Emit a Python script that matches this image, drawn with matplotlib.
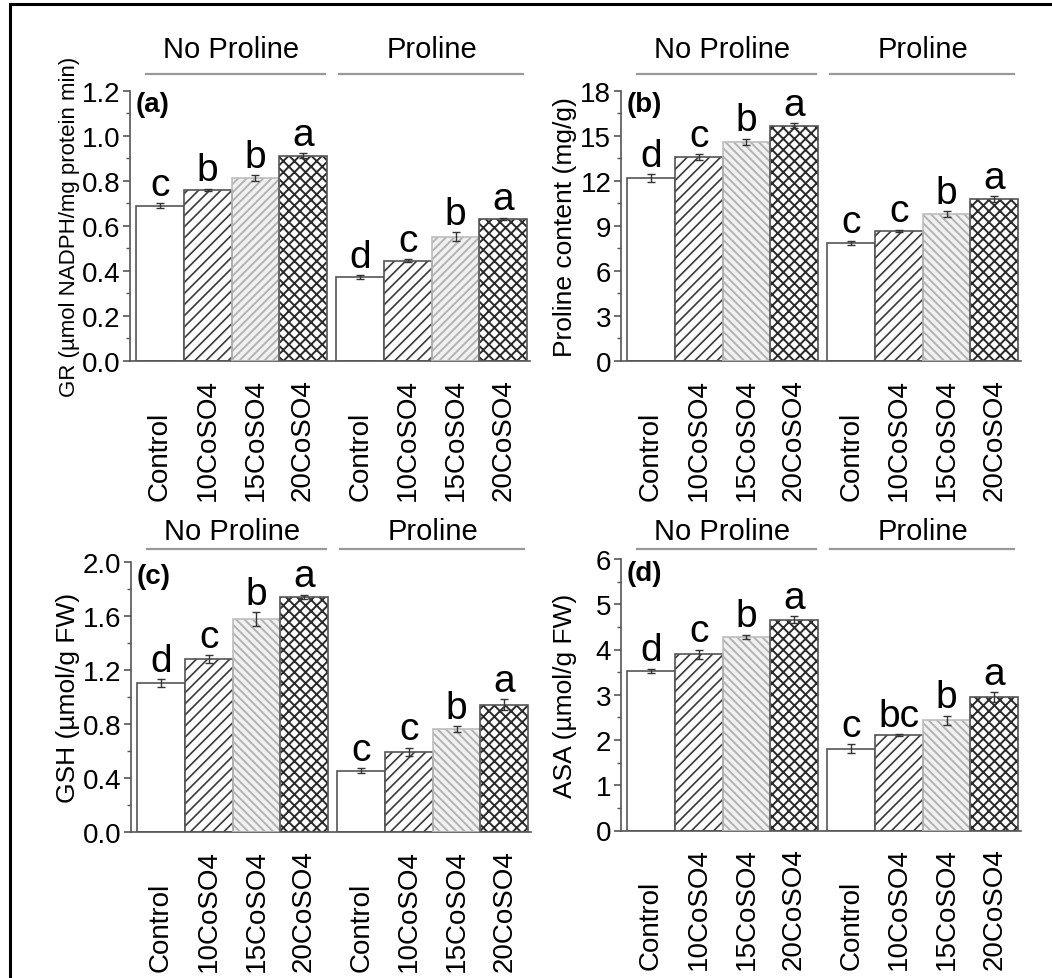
import matplotlib
matplotlib.use("Agg")
import matplotlib.pyplot as plt
from matplotlib import font_manager
from matplotlib.patches import Rectangle
from matplotlib.ticker import MultipleLocator, AutoMinorLocator, FormatStrFormatter
import numpy as np

plt.rcParams['font.family'] = ['Liberation Sans', 'DejaVu Sans']
plt.rcParams['hatch.linewidth'] = 1.1

_names = {f.name for f in font_manager.fontManager.ttflist}
HAS_NARROW = 'Liberation Sans Narrow' in _names

# ---------------- data ----------------
treatments = ["Control", "10CoSO4", "15CoSO4", "20CoSO4"]
groups = ["No Proline", "Proline"]

gr_vals = [0.689, 0.759, 0.812, 0.911, 0.371, 0.444, 0.551, 0.630]
gr_err = [0.012, 0.006, 0.012, 0.010, 0.008, 0.006, 0.020, 0.006]
gr_letters = ["c", "b", "b", "a", "d", "c", "b", "a"]

pro_vals = [12.18, 13.55, 14.60, 15.67, 7.85, 8.65, 9.75, 10.78]
pro_err = [0.25, 0.20, 0.20, 0.15, 0.15, 0.08, 0.20, 0.20]
pro_letters = ["d", "c", "b", "a", "c", "c", "b", "a"]

gsh_vals = [1.106, 1.284, 1.580, 1.745, 0.456, 0.597, 0.765, 0.945]
gsh_err = [0.03, 0.03, 0.05, 0.015, 0.02, 0.03, 0.02, 0.04]
gsh_letters = ["d", "c", "b", "a", "c", "c", "b", "a"]

asa_vals = [3.53, 3.90, 4.28, 4.66, 1.81, 2.11, 2.44, 2.95]
asa_err = [0.05, 0.10, 0.05, 0.07, 0.10, 0.02, 0.10, 0.10]
asa_letters = ["d", "c", "b", "a", "c", "bc", "b", "a"]

panels = [
    dict(vals=gr_vals, err=gr_err, letters=gr_letters, tag="(a)",
         ylabel="GR (µmol NADPH/mg protein min)", ymax=1.2, step=0.2, fmt="%.1f",
         rect=(130, 530, 91.7, 361.7), ylab_x=80, hdr_line=75, hdr_text=50, hatch3='////',
         narrow=True),
    dict(vals=pro_vals, err=pro_err, letters=pro_letters, tag="(b)",
         ylabel="Proline content (mg/g)", ymax=18, step=3, fmt="%d",
         rect=(621, 1021, 91.7, 361.7), ylab_x=577, hdr_line=75, hdr_text=50, hatch3='\\\\\\\\',
         narrow=False),
    dict(vals=gsh_vals, err=gsh_err, letters=gsh_letters, tag="(c)",
         ylabel="GSH (µmol/g FW)", ymax=2.0, step=0.4, fmt="%.1f",
         rect=(131, 531, 563.3, 833.3), ylab_x=80, hdr_line=550, hdr_text=532, hatch3='\\\\\\\\',
         narrow=False),
    dict(vals=asa_vals, err=asa_err, letters=asa_letters, tag="(d)",
         ylabel="ASA (µmol/g FW)", ymax=6, step=1, fmt="%d",
         rect=(621, 1021, 560, 831.5), ylab_x=577, hdr_line=550, hdr_text=532, hatch3='\\\\\\\\',
         narrow=False),
]

W, H = 1052, 979
fig = plt.figure(figsize=(W / 100, H / 100), dpi=100)

positions = [0, 1, 2, 3, 4.2, 5.2, 6.2, 7.2]
labels = treatments * 2
edge = '#555555'

for p in panels:
    x0, x1, ytop, ybot = p["rect"]
    h = ybot - ytop
    ax = fig.add_axes([x0 / W, 1 - ybot / H, (x1 - x0) / W, h / H])
    vals = p["vals"]
    for i, (xp, v) in enumerate(zip(positions, vals)):
        k = i % 4
        if k == 0:
            ax.bar(xp, v, width=1.0, color='white', edgecolor=edge, linewidth=1.2, zorder=2)
        elif k == 1:
            with plt.rc_context({'hatch.linewidth': 1.2}):
                ax.bar(xp, v, width=1.0, color='white', edgecolor='#3a3a3a', hatch='///',
                       linewidth=0, zorder=2)
            ax.bar(xp, v, width=1.0, fill=False, edgecolor=edge, linewidth=1.2, zorder=3)
        elif k == 2:
            with plt.rc_context({'hatch.linewidth': 1.3}):
                ax.bar(xp, v, width=1.0, color='#f0f0f0', edgecolor='#b0b0b0', hatch=p["hatch3"],
                       linewidth=0, zorder=2)
            ax.bar(xp, v, width=1.0, fill=False, edgecolor='#bdbdbd', linewidth=1.2, zorder=3)
        else:
            with plt.rc_context({'hatch.linewidth': 1.4}):
                ax.bar(xp, v, width=1.0, color='white', edgecolor='#2a2a2a', hatch='xxx',
                       linewidth=0, zorder=2)
            ax.bar(xp, v, width=1.0, fill=False, edgecolor=edge, linewidth=1.2, zorder=3)
    ax.errorbar(positions, vals, yerr=p["err"], fmt='none', ecolor='#333333',
                elinewidth=1.0, capsize=3, capthick=1.0, zorder=4)
    for xp, v, e, lt in zip(positions, vals, p["err"], p["letters"]):
        ax.annotate(lt, (xp, v + e), xytext=(0, 6), textcoords='offset points',
                    ha='center', va='baseline', fontsize=28, color='black', zorder=5)

    ax.set_xlim(-0.63, 7.76)
    ax.set_ylim(0, p["ymax"])
    ax.yaxis.set_major_locator(MultipleLocator(p["step"]))
    ax.yaxis.set_minor_locator(AutoMinorLocator(2))
    ax.yaxis.set_major_formatter(FormatStrFormatter(p["fmt"]))
    ax.set_xticks(positions)
    ax.set_xticklabels([])
    ax.tick_params(axis='x', length=0)
    # category labels, bottom-aligned as in the reference
    trans = ax.get_xaxis_transform()
    lab_y = -(139.0 / h)
    for xp, lb in zip(positions, labels):
        ax.text(xp, lab_y, lb, transform=trans, rotation=90, ha='center', va='bottom',
                fontsize=20, clip_on=False)
    ax.tick_params(axis='y', which='major', direction='out', length=5, width=1.2,
                   color=edge, labelsize=20, pad=2)
    ax.tick_params(axis='y', which='minor', direction='out', length=3, width=1.0, color=edge)
    for s in ['top', 'right']:
        ax.spines[s].set_visible(False)
    for s in ['left', 'bottom']:
        ax.spines[s].set_color(edge)
        ax.spines[s].set_linewidth(1.2)

    if p["narrow"]:
        if HAS_NARROW:
            ax.set_ylabel(p["ylabel"], fontsize=19.5,
                          family=['Liberation Sans Narrow', 'DejaVu Sans'])
        else:
            ax.set_ylabel(p["ylabel"], fontsize=16)
    else:
        ax.set_ylabel(p["ylabel"], fontsize=19)
    ax.yaxis.set_label_coords((p["ylab_x"] - x0) / (x1 - x0), 0.5)

    ax.text(0.015, 0.998, p["tag"], transform=ax.transAxes, fontsize=20,
            fontweight='bold', ha='left', va='top')

    # group headers
    ly = 1 + (ytop - p["hdr_line"]) / h
    ty = 1 + (ytop - p["hdr_text"]) / h
    spans = [(positions[0] - 0.3, positions[3] + 0.45), (positions[4] - 0.45, positions[7] + 0.42)]
    for gi, (g, (a, b)) in enumerate(zip(groups, spans)):
        ax.plot([a, b], [ly, ly], transform=trans, color='#999999', lw=1.6, clip_on=False)
        ax.text((positions[gi * 4] + positions[gi * 4 + 3]) / 2, ty, g, transform=trans,
                ha='center', va='center', fontsize=21)

# outer frame
frame = Rectangle((10 / W, -0.5), 2.0, (1 - 4.5 / H) + 0.5, transform=fig.transFigure,
                  fill=False, edgecolor='black', linewidth=2.2)
fig.patches.append(frame)

fig.savefig("out.png", dpi=100)
